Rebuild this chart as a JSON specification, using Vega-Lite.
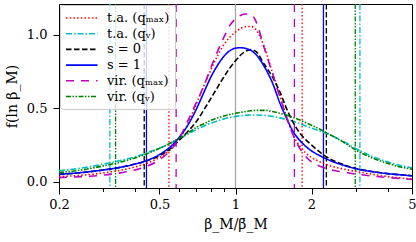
{
"$schema":"https://vega.github.io/schema/vega-lite/v6.json",
"width":353,"height":184,
"autosize":{"type":"none"},
"padding":{"left":59,"top":4,"right":4,"bottom":54},
"config":{"view":{"stroke":"black","strokeWidth":1},"font":"DejaVu Serif",
"legend":{"orient":"none","legendX":1,"legendY":1,"symbolType":"M-1,0H3.5","symbolSize":196,"symbolStrokeWidth":1.6,"labelFont":"DejaVu Serif","labelFontSize":13,"labelColor":"black","rowPadding":0.7,"padding":5,"strokeColor":"#cccccc","fillColor":"rgba(255,255,255,0.8)","cornerRadius":3,"labelOffset":26,"symbolFillColor":"transparent"}},
"datasets":{
"vlines":[{"s":"t.a. (qₘₐₓ)","b":0.545},{"s":"t.a. (qₘₐₓ)","b":1.836},{"s":"t.a. (qᵥ)","b":0.318},{"s":"t.a. (qᵥ)","b":3.11},{"s":"s = 0","b":0.435},{"s":"s = 0","b":2.29},{"s":"s = 1","b":0.444},{"s":"s = 1","b":2.23},{"s":"vir. (qₘₐₓ)","b":0.582},{"s":"vir. (qₘₐₓ)","b":1.711},{"s":"vir. (qᵥ)","b":0.335},{"s":"vir. (qᵥ)","b":2.98}],
"curves":[
{"s":"t.a. (qₘₐₓ)","b":0.2,"f":0.035},{"s":"t.a. (qₘₐₓ)","b":0.25,"f":0.045},{"s":"t.a. (qₘₐₓ)","b":0.3,"f":0.06},{"s":"t.a. (qₘₐₓ)","b":0.35,"f":0.078},{"s":"t.a. (qₘₐₓ)","b":0.4,"f":0.1},{"s":"t.a. (qₘₐₓ)","b":0.45,"f":0.128},{"s":"t.a. (qₘₐₓ)","b":0.5,"f":0.165},{"s":"t.a. (qₘₐₓ)","b":0.55,"f":0.215},{"s":"t.a. (qₘₐₓ)","b":0.6,"f":0.29},{"s":"t.a. (qₘₐₓ)","b":0.65,"f":0.4},{"s":"t.a. (qₘₐₓ)","b":0.7,"f":0.53},{"s":"t.a. (qₘₐₓ)","b":0.75,"f":0.655},{"s":"t.a. (qₘₐₓ)","b":0.8,"f":0.765},{"s":"t.a. (qₘₐₓ)","b":0.85,"f":0.86},{"s":"t.a. (qₘₐₓ)","b":0.9,"f":0.935},{"s":"t.a. (qₘₐₓ)","b":0.95,"f":0.985},{"s":"t.a. (qₘₐₓ)","b":1.0,"f":1.02},{"s":"t.a. (qₘₐₓ)","b":1.05,"f":1.045},{"s":"t.a. (qₘₐₓ)","b":1.1,"f":1.057},{"s":"t.a. (qₘₐₓ)","b":1.15,"f":1.058},{"s":"t.a. (qₘₐₓ)","b":1.2,"f":1.04},{"s":"t.a. (qₘₐₓ)","b":1.3,"f":0.92},{"s":"t.a. (qₘₐₓ)","b":1.4,"f":0.745},{"s":"t.a. (qₘₐₓ)","b":1.5,"f":0.585},{"s":"t.a. (qₘₐₓ)","b":1.6,"f":0.43},{"s":"t.a. (qₘₐₓ)","b":1.7,"f":0.31},{"s":"t.a. (qₘₐₓ)","b":1.8,"f":0.24},{"s":"t.a. (qₘₐₓ)","b":1.9,"f":0.195},{"s":"t.a. (qₘₐₓ)","b":2.0,"f":0.165},{"s":"t.a. (qₘₐₓ)","b":2.2,"f":0.13},{"s":"t.a. (qₘₐₓ)","b":2.4,"f":0.105},{"s":"t.a. (qₘₐₓ)","b":2.7,"f":0.085},{"s":"t.a. (qₘₐₓ)","b":3.0,"f":0.07},{"s":"t.a. (qₘₐₓ)","b":3.5,"f":0.05},{"s":"t.a. (qₘₐₓ)","b":4.0,"f":0.035},{"s":"t.a. (qₘₐₓ)","b":4.5,"f":0.025},{"s":"t.a. (qₘₐₓ)","b":5.0,"f":0.018},
{"s":"t.a. (qᵥ)","b":0.2,"f":0.075},{"s":"t.a. (qᵥ)","b":0.25,"f":0.095},{"s":"t.a. (qᵥ)","b":0.3,"f":0.12},{"s":"t.a. (qᵥ)","b":0.35,"f":0.145},{"s":"t.a. (qᵥ)","b":0.4,"f":0.17},{"s":"t.a. (qᵥ)","b":0.45,"f":0.2},{"s":"t.a. (qᵥ)","b":0.5,"f":0.23},{"s":"t.a. (qᵥ)","b":0.55,"f":0.26},{"s":"t.a. (qᵥ)","b":0.6,"f":0.295},{"s":"t.a. (qᵥ)","b":0.65,"f":0.325},{"s":"t.a. (qᵥ)","b":0.7,"f":0.355},{"s":"t.a. (qᵥ)","b":0.75,"f":0.38},{"s":"t.a. (qᵥ)","b":0.8,"f":0.4},{"s":"t.a. (qᵥ)","b":0.85,"f":0.415},{"s":"t.a. (qᵥ)","b":0.9,"f":0.428},{"s":"t.a. (qᵥ)","b":0.95,"f":0.438},{"s":"t.a. (qᵥ)","b":1.0,"f":0.445},{"s":"t.a. (qᵥ)","b":1.05,"f":0.45},{"s":"t.a. (qᵥ)","b":1.1,"f":0.453},{"s":"t.a. (qᵥ)","b":1.15,"f":0.455},{"s":"t.a. (qᵥ)","b":1.2,"f":0.455},{"s":"t.a. (qᵥ)","b":1.3,"f":0.452},{"s":"t.a. (qᵥ)","b":1.4,"f":0.445},{"s":"t.a. (qᵥ)","b":1.5,"f":0.435},{"s":"t.a. (qᵥ)","b":1.6,"f":0.422},{"s":"t.a. (qᵥ)","b":1.7,"f":0.41},{"s":"t.a. (qᵥ)","b":1.8,"f":0.395},{"s":"t.a. (qᵥ)","b":1.9,"f":0.38},{"s":"t.a. (qᵥ)","b":2.0,"f":0.365},{"s":"t.a. (qᵥ)","b":2.2,"f":0.34},{"s":"t.a. (qᵥ)","b":2.4,"f":0.315},{"s":"t.a. (qᵥ)","b":2.7,"f":0.27},{"s":"t.a. (qᵥ)","b":3.0,"f":0.225},{"s":"t.a. (qᵥ)","b":3.5,"f":0.17},{"s":"t.a. (qᵥ)","b":4.0,"f":0.135},{"s":"t.a. (qᵥ)","b":4.5,"f":0.11},{"s":"t.a. (qᵥ)","b":5.0,"f":0.095},
{"s":"s = 0","b":0.2,"f":0.05},{"s":"s = 0","b":0.25,"f":0.063},{"s":"s = 0","b":0.3,"f":0.08},{"s":"s = 0","b":0.35,"f":0.098},{"s":"s = 0","b":0.4,"f":0.12},{"s":"s = 0","b":0.45,"f":0.145},{"s":"s = 0","b":0.5,"f":0.178},{"s":"s = 0","b":0.55,"f":0.222},{"s":"s = 0","b":0.6,"f":0.285},{"s":"s = 0","b":0.65,"f":0.345},{"s":"s = 0","b":0.7,"f":0.41},{"s":"s = 0","b":0.75,"f":0.49},{"s":"s = 0","b":0.8,"f":0.57},{"s":"s = 0","b":0.85,"f":0.645},{"s":"s = 0","b":0.9,"f":0.715},{"s":"s = 0","b":0.95,"f":0.775},{"s":"s = 0","b":1.0,"f":0.825},{"s":"s = 0","b":1.05,"f":0.865},{"s":"s = 0","b":1.1,"f":0.89},{"s":"s = 0","b":1.15,"f":0.9},{"s":"s = 0","b":1.2,"f":0.89},{"s":"s = 0","b":1.3,"f":0.8},{"s":"s = 0","b":1.4,"f":0.715},{"s":"s = 0","b":1.5,"f":0.61},{"s":"s = 0","b":1.6,"f":0.49},{"s":"s = 0","b":1.7,"f":0.398},{"s":"s = 0","b":1.8,"f":0.33},{"s":"s = 0","b":1.9,"f":0.285},{"s":"s = 0","b":2.0,"f":0.25},{"s":"s = 0","b":2.2,"f":0.19},{"s":"s = 0","b":2.4,"f":0.15},{"s":"s = 0","b":2.7,"f":0.115},{"s":"s = 0","b":3.0,"f":0.09},{"s":"s = 0","b":3.5,"f":0.068},{"s":"s = 0","b":4.0,"f":0.055},{"s":"s = 0","b":4.5,"f":0.047},{"s":"s = 0","b":5.0,"f":0.041},
{"s":"s = 1","b":0.2,"f":0.05},{"s":"s = 1","b":0.25,"f":0.064},{"s":"s = 1","b":0.3,"f":0.08},{"s":"s = 1","b":0.35,"f":0.098},{"s":"s = 1","b":0.4,"f":0.12},{"s":"s = 1","b":0.45,"f":0.147},{"s":"s = 1","b":0.5,"f":0.185},{"s":"s = 1","b":0.55,"f":0.235},{"s":"s = 1","b":0.6,"f":0.305},{"s":"s = 1","b":0.65,"f":0.39},{"s":"s = 1","b":0.7,"f":0.495},{"s":"s = 1","b":0.75,"f":0.61},{"s":"s = 1","b":0.8,"f":0.715},{"s":"s = 1","b":0.85,"f":0.795},{"s":"s = 1","b":0.9,"f":0.855},{"s":"s = 1","b":0.95,"f":0.893},{"s":"s = 1","b":1.0,"f":0.91},{"s":"s = 1","b":1.05,"f":0.913},{"s":"s = 1","b":1.1,"f":0.908},{"s":"s = 1","b":1.15,"f":0.895},{"s":"s = 1","b":1.2,"f":0.87},{"s":"s = 1","b":1.3,"f":0.785},{"s":"s = 1","b":1.4,"f":0.675},{"s":"s = 1","b":1.5,"f":0.535},{"s":"s = 1","b":1.6,"f":0.425},{"s":"s = 1","b":1.7,"f":0.335},{"s":"s = 1","b":1.8,"f":0.28},{"s":"s = 1","b":1.9,"f":0.24},{"s":"s = 1","b":2.0,"f":0.21},{"s":"s = 1","b":2.2,"f":0.17},{"s":"s = 1","b":2.4,"f":0.14},{"s":"s = 1","b":2.7,"f":0.11},{"s":"s = 1","b":3.0,"f":0.088},{"s":"s = 1","b":3.5,"f":0.068},{"s":"s = 1","b":4.0,"f":0.055},{"s":"s = 1","b":4.5,"f":0.047},{"s":"s = 1","b":5.0,"f":0.04},
{"s":"vir. (qₘₐₓ)","b":0.2,"f":0.028},{"s":"vir. (qₘₐₓ)","b":0.25,"f":0.035},{"s":"vir. (qₘₐₓ)","b":0.3,"f":0.045},{"s":"vir. (qₘₐₓ)","b":0.35,"f":0.06},{"s":"vir. (qₘₐₓ)","b":0.4,"f":0.08},{"s":"vir. (qₘₐₓ)","b":0.45,"f":0.108},{"s":"vir. (qₘₐₓ)","b":0.5,"f":0.15},{"s":"vir. (qₘₐₓ)","b":0.55,"f":0.21},{"s":"vir. (qₘₐₓ)","b":0.6,"f":0.3},{"s":"vir. (qₘₐₓ)","b":0.65,"f":0.42},{"s":"vir. (qₘₐₓ)","b":0.7,"f":0.54},{"s":"vir. (qₘₐₓ)","b":0.75,"f":0.655},{"s":"vir. (qₘₐₓ)","b":0.8,"f":0.78},{"s":"vir. (qₘₐₓ)","b":0.85,"f":0.89},{"s":"vir. (qₘₐₓ)","b":0.9,"f":0.985},{"s":"vir. (qₘₐₓ)","b":0.95,"f":1.065},{"s":"vir. (qₘₐₓ)","b":1.0,"f":1.11},{"s":"vir. (qₘₐₓ)","b":1.05,"f":1.135},{"s":"vir. (qₘₐₓ)","b":1.1,"f":1.143},{"s":"vir. (qₘₐₓ)","b":1.15,"f":1.14},{"s":"vir. (qₘₐₓ)","b":1.2,"f":1.1},{"s":"vir. (qₘₐₓ)","b":1.3,"f":0.91},{"s":"vir. (qₘₐₓ)","b":1.4,"f":0.74},{"s":"vir. (qₘₐₓ)","b":1.5,"f":0.575},{"s":"vir. (qₘₐₓ)","b":1.6,"f":0.43},{"s":"vir. (qₘₐₓ)","b":1.7,"f":0.31},{"s":"vir. (qₘₐₓ)","b":1.8,"f":0.225},{"s":"vir. (qₘₐₓ)","b":1.9,"f":0.17},{"s":"vir. (qₘₐₓ)","b":2.0,"f":0.135},{"s":"vir. (qₘₐₓ)","b":2.2,"f":0.1},{"s":"vir. (qₘₐₓ)","b":2.4,"f":0.08},{"s":"vir. (qₘₐₓ)","b":2.7,"f":0.065},{"s":"vir. (qₘₐₓ)","b":3.0,"f":0.052},{"s":"vir. (qₘₐₓ)","b":3.5,"f":0.038},{"s":"vir. (qₘₐₓ)","b":4.0,"f":0.028},{"s":"vir. (qₘₐₓ)","b":4.5,"f":0.021},{"s":"vir. (qₘₐₓ)","b":5.0,"f":0.016},
{"s":"vir. (qᵥ)","b":0.2,"f":0.062},{"s":"vir. (qᵥ)","b":0.25,"f":0.082},{"s":"vir. (qᵥ)","b":0.3,"f":0.108},{"s":"vir. (qᵥ)","b":0.35,"f":0.133},{"s":"vir. (qᵥ)","b":0.4,"f":0.162},{"s":"vir. (qᵥ)","b":0.45,"f":0.193},{"s":"vir. (qᵥ)","b":0.5,"f":0.227},{"s":"vir. (qᵥ)","b":0.55,"f":0.262},{"s":"vir. (qᵥ)","b":0.6,"f":0.297},{"s":"vir. (qᵥ)","b":0.65,"f":0.333},{"s":"vir. (qᵥ)","b":0.7,"f":0.37},{"s":"vir. (qᵥ)","b":0.75,"f":0.395},{"s":"vir. (qᵥ)","b":0.8,"f":0.418},{"s":"vir. (qᵥ)","b":0.85,"f":0.435},{"s":"vir. (qᵥ)","b":0.9,"f":0.448},{"s":"vir. (qᵥ)","b":0.95,"f":0.458},{"s":"vir. (qᵥ)","b":1.0,"f":0.466},{"s":"vir. (qᵥ)","b":1.05,"f":0.473},{"s":"vir. (qᵥ)","b":1.1,"f":0.479},{"s":"vir. (qᵥ)","b":1.15,"f":0.483},{"s":"vir. (qᵥ)","b":1.2,"f":0.486},{"s":"vir. (qᵥ)","b":1.3,"f":0.486},{"s":"vir. (qᵥ)","b":1.4,"f":0.478},{"s":"vir. (qᵥ)","b":1.5,"f":0.466},{"s":"vir. (qᵥ)","b":1.6,"f":0.452},{"s":"vir. (qᵥ)","b":1.7,"f":0.437},{"s":"vir. (qᵥ)","b":1.8,"f":0.42},{"s":"vir. (qᵥ)","b":1.9,"f":0.402},{"s":"vir. (qᵥ)","b":2.0,"f":0.385},{"s":"vir. (qᵥ)","b":2.2,"f":0.35},{"s":"vir. (qᵥ)","b":2.4,"f":0.315},{"s":"vir. (qᵥ)","b":2.7,"f":0.265},{"s":"vir. (qᵥ)","b":3.0,"f":0.215},{"s":"vir. (qᵥ)","b":3.5,"f":0.16},{"s":"vir. (qᵥ)","b":4.0,"f":0.125},{"s":"vir. (qᵥ)","b":4.5,"f":0.1},{"s":"vir. (qᵥ)","b":5.0,"f":0.085}
]},
"layer":[
{"data":{"values":[{"b":1}]},"mark":{"type":"rule","color":"#a6a6a6","strokeWidth":1.3},
 "encoding":{"x":{"field":"b","type":"quantitative","scale":{"type":"log","domain":[0.2,5],"nice":false}}}},
{"data":{"name":"vlines"},"mark":{"type":"rule","strokeWidth":1.3},
 "encoding":{"x":{"field":"b","type":"quantitative","scale":{"type":"log","domain":[0.2,5],"nice":false}},
  "color":{"field":"s","type":"nominal","title":null,"scale":{"domain":["t.a. (qₘₐₓ)","t.a. (qᵥ)","s = 0","s = 1","vir. (qₘₐₓ)","vir. (qᵥ)"],"range":["#ff0000","#00bfbf","#000000","#0000ff","#bf00bf","#008000"]}},
  "strokeDash":{"field":"s","type":"nominal","title":null,"scale":{"domain":["t.a. (qₘₐₓ)","t.a. (qᵥ)","s = 0","s = 1","vir. (qₘₐₓ)","vir. (qᵥ)"],"range":[[1.5,2.2],[6,2,1.5,2],[5.5,2.5],[1,0],[8,7],[5,1.5,1.5,1.5,1.5,1.5]]}}}},
{"data":{"name":"curves"},"mark":{"type":"line","strokeWidth":1.6,"interpolate":"monotone"},
 "encoding":{
  "x":{"field":"b","type":"quantitative","title":"β_M/β̄_M","scale":{"type":"log","domain":[0.2,5],"nice":false},
   "axis":{"values":[0.2,0.3,0.4,0.5,0.6,0.7,0.8,0.9,1,2,3,4,5],"labelExpr":"indexof([0.2,0.5,1,2,5], datum.value) >= 0 ? format(datum.value,'~g') : ''","grid":false,"domain":false,"tickColor":"black","tickSize":{"condition":{"test":"indexof([0.2,0.5,1,2,5], datum.value) >= 0","value":6},"value":3.5},"tickWidth":1,"labelFont":"DejaVu Serif","labelFontSize":13,"labelColor":"black","labelPadding":4,"labelFlush":false,"titleFont":"DejaVu Serif","titleFontSize":14,"titleFontWeight":"normal","titleColor":"black","titlePadding":6}},
  "y":{"field":"f","type":"quantitative","title":"f(ln β_M)","scale":{"domain":[-0.043,1.211],"nice":false,"zero":false},
   "axis":{"values":[0,0.5,1],"format":".1f","grid":false,"domain":false,"tickColor":"black","tickSize":6,"tickWidth":1,"labelFont":"DejaVu Serif","labelFontSize":13,"labelColor":"black","labelPadding":6,"titleFont":"DejaVu Serif","titleFontSize":14,"titleFontWeight":"normal","titleColor":"black","titlePadding":7}},
  "color":{"field":"s","type":"nominal","title":null,"scale":{"domain":["t.a. (qₘₐₓ)","t.a. (qᵥ)","s = 0","s = 1","vir. (qₘₐₓ)","vir. (qᵥ)"],"range":["#ff0000","#00bfbf","#000000","#0000ff","#bf00bf","#008000"]}},
  "strokeDash":{"field":"s","type":"nominal","title":null,"scale":{"domain":["t.a. (qₘₐₓ)","t.a. (qᵥ)","s = 0","s = 1","vir. (qₘₐₓ)","vir. (qᵥ)"],"range":[[1.5,2.2],[6,2,1.5,2],[5.5,2.5],[1,0],[8,7],[5,1.5,1.5,1.5,1.5,1.5]]}}}}
]
}
